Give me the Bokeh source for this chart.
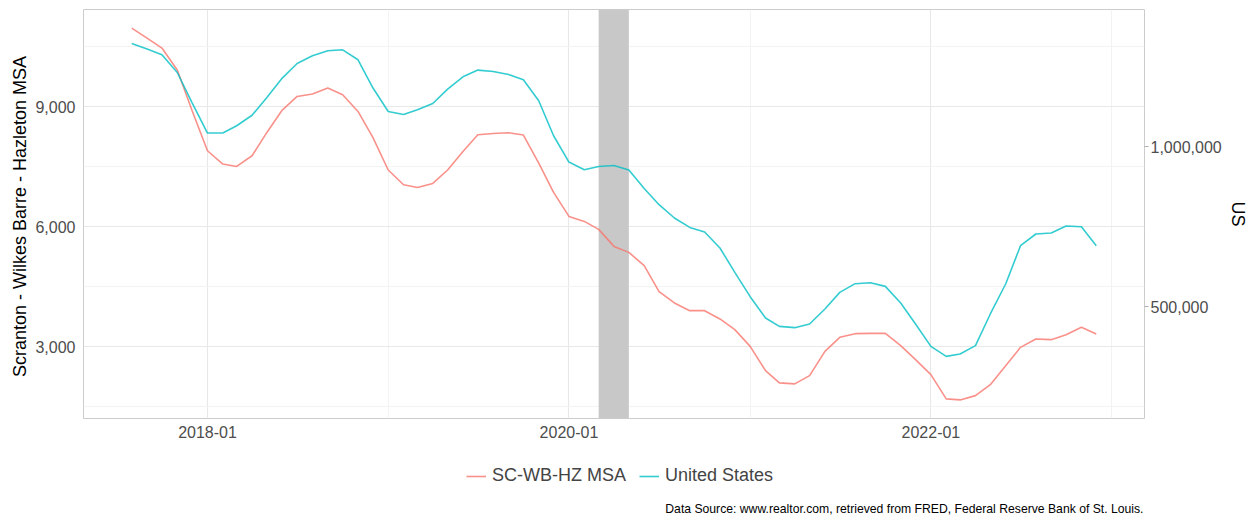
import pandas as pd
from bokeh.plotting import figure
from bokeh.layouts import column
from bokeh.models import (Range1d, LinearAxis, FixedTicker, NumeralTickFormatter,
                          DatetimeTickFormatter, Legend, LegendItem, BoxAnnotation, Label)
from bokeh.embed import file_html
from bokeh.resources import INLINE

# ---------------- data ----------------
months = pd.date_range("2017-08-01", "2022-12-01", freq="MS")

msa = [10968, 10718, 10468, 9918, 8900,
       7900, 7568, 7508, 7775, 8358, 8918, 9258, 9318, 9468, 9300, 8883, 8233,
       7418, 7050, 6983, 7083, 7418, 7883, 8300, 8333, 8350, 8293, 7593, 6858,
       6258, 6133, 5933, 5508, 5358, 5025, 4375, 4093, 3900, 3900, 3693, 3425,
       3008, 2400, 2093, 2068, 2275, 2883, 3233, 3325, 3333, 3333, 3025, 2675,
       2300, 1693, 1668, 1775, 2050, 2525, 2983, 3193, 3175, 3300, 3483, 3318]

us = [1322800, 1305300, 1287500, 1232200, 1137500,
      1042800, 1042800, 1065600, 1098400, 1154100, 1214700, 1260300, 1284400, 1300000, 1303100, 1271900, 1184400,
      1110300, 1100900, 1115600, 1135300, 1180300, 1218800, 1239700, 1235300, 1225900, 1209400, 1143800, 1034400,
      952200, 928100, 938400, 941600, 927200, 869700, 818800, 777200, 747800, 733400, 683400, 607200,
      531200, 464700, 438400, 434400, 445900, 492800, 544700, 571900, 575000, 563400, 511600, 445900,
      375900, 344700, 352200, 378100, 477200, 570900, 690600, 727200, 730300, 752200, 750000, 690600]

recession_start = "2020-03-01"
recession_end = "2020-05-01"

x_major = ["2018-01-01", "2020-01-01", "2022-01-01"]
x_minor = ["2019-01-01", "2021-01-01", "2023-01-01"]
y_major = [3000, 6000, 9000]
y_minor = [1500, 4500, 7500, 10500]
us_major = [500000, 1000000]
us_scale = 125  # secondary axis: US = left * 125

series_names = ["SC-WB-HZ MSA", "United States"]
left_title = "Scranton - Wilkes Barre - Hazleton  MSA"
right_title = "US"
caption = "Data Source: www.realtor.com, retrieved from FRED, Federal Reserve Bank of St. Louis."


def ms(s):
    return pd.Timestamp(s).value // 10**6


# ---------------- ranges (ggplot-style 5% expansion) ----------------
t0, t1 = ms(months[0]), ms(months[-1])
pad_t = 0.05 * (t1 - t0)
x_lo, x_hi = t0 - pad_t, t1 + pad_t
vals = list(msa) + [u / us_scale for u in us]
v0, v1 = min(vals), max(vals)
pad_v = 0.05 * (v1 - v0)
y_lo, y_hi = v0 - pad_v, v1 + pad_v

FONT = "Liberation Sans"
RED = "#F8766D"
CYAN = "#00BFC4"
W, H_MAIN, H_FOOT = 1252, 450, 66

p = figure(width=W, height=H_MAIN, x_axis_type="datetime",
           output_backend="svg", toolbar_location=None,
           x_range=Range1d(x_lo, x_hi),
           y_range=Range1d(y_lo, y_hi),
           min_border_left=83, min_border_right=108,
           min_border_top=9, min_border_bottom=32)
p.extra_y_ranges = {"us": Range1d(y_lo * us_scale, y_hi * us_scale)}

p.outline_line_color = "#CCCCCC"
p.outline_line_width = 1
p.background_fill_color = "white"
p.border_fill_color = "white"

# grids
p.xgrid.grid_line_color = "#E8E8E8"
p.ygrid.grid_line_color = "#E8E8E8"
p.xgrid.minor_grid_line_color = "#F3F3F3"
p.ygrid.minor_grid_line_color = "#F3F3F3"
p.xgrid.grid_line_width = 1.1
p.ygrid.grid_line_width = 1.1

# x axis
xt = FixedTicker(ticks=[ms(d) for d in x_major], minor_ticks=[ms(d) for d in x_minor])
p.xaxis.ticker = xt
p.xgrid.ticker = xt
fmt = "%Y-%m"
p.xaxis.formatter = DatetimeTickFormatter(years=fmt, months=fmt, days=fmt, hours=fmt,
                                          minutes=fmt, seconds=fmt, milliseconds=fmt,
                                          microseconds=fmt, hourmin=fmt, minsec=fmt)

# left axis
yt = FixedTicker(ticks=y_major, minor_ticks=y_minor)
p.yaxis.ticker = yt
p.ygrid.ticker = yt
p.yaxis.formatter = NumeralTickFormatter(format="0,0")
p.yaxis.axis_label = left_title

for ax in (p.xaxis[0], p.yaxis[0]):
    ax.axis_line_color = None
    ax.major_tick_line_color = None
    ax.minor_tick_line_color = None
    ax.major_tick_out = 0
    ax.minor_tick_out = 0
    ax.major_label_text_font = FONT
    ax.major_label_text_font_size = "16px"
    ax.major_label_text_color = "#4D4D4D"
    ax.axis_label_text_font = FONT
    ax.axis_label_text_font_size = "18px"
    ax.axis_label_text_font_style = "normal"
    ax.axis_label_text_color = "black"
p.yaxis.major_label_standoff = 8
p.yaxis.axis_label_standoff = 2
p.xaxis.major_label_standoff = 7

# right axis
ra = LinearAxis(y_range_name="us", ticker=FixedTicker(ticks=us_major),
                formatter=NumeralTickFormatter(format="0,0"),
                axis_label=right_title)
ra.axis_line_color = None
ra.major_tick_line_color = "#B0B0B0"
ra.major_tick_out = 4
ra.major_tick_in = 0
ra.minor_tick_line_color = None
ra.minor_tick_out = 0
ra.major_label_standoff = 2
ra.major_label_text_font = FONT
ra.major_label_text_font_size = "16px"
ra.major_label_text_color = "#4D4D4D"
ra.axis_label_text_font = FONT
ra.axis_label_text_font_size = "18px"
ra.axis_label_text_font_style = "normal"
ra.axis_label_text_color = "black"
ra.axis_label_standoff = 3
p.add_layout(ra, "right")

# recession shading
p.add_layout(BoxAnnotation(left=ms(recession_start), right=ms(recession_end),
                           fill_color="#C8C8C8", fill_alpha=1.0, line_color=None,
                           level="underlay"))

# lines
r1 = p.line(months, msa, line_color=RED, line_width=1.6, line_alpha=0.8)
r2 = p.line(months, us, y_range_name="us", line_color=CYAN, line_width=1.6, line_alpha=0.8)

# ---------------- footer: legend + caption ----------------
# frame of the footer is aligned with the main frame by the column layout
f = figure(width=W, height=H_FOOT, output_backend="svg", toolbar_location=None,
           x_range=Range1d(0, 1), y_range=Range1d(0, H_FOOT),
           min_border_left=0, min_border_right=0, min_border_top=0, min_border_bottom=0)
f.axis.visible = False
f.grid.visible = False
f.outline_line_color = None
f.background_fill_color = "white"
f.border_fill_color = "white"

# same series drawn in the footer (outside its view) only to key the legend
k1 = f.line(months, msa, line_color=RED, line_width=1.6, line_alpha=0.8)
k2 = f.line(months, [u / us_scale for u in us], line_color=CYAN, line_width=1.6, line_alpha=0.8)
legend = Legend(items=[LegendItem(label=series_names[0], renderers=[k1]),
                       LegendItem(label=series_names[1], renderers=[k2])],
                orientation="horizontal", location=(383, 30),
                label_text_font=FONT, label_text_font_size="18px",
                label_standoff=6, glyph_width=20, glyph_height=20, label_height=20,
                spacing=13, border_line_color=None, background_fill_alpha=0,
                margin=0, padding=0)
f.add_layout(legend, "center")

cap = Label(x=1, y=8, x_offset=-1, text=caption, text_align="right", text_baseline="middle",
            text_font=FONT, text_font_size="12.2px", text_color="black")
f.add_layout(cap)

layout = column(p, f, spacing=0)
open("out.html", "w").write(file_html(layout, INLINE))
